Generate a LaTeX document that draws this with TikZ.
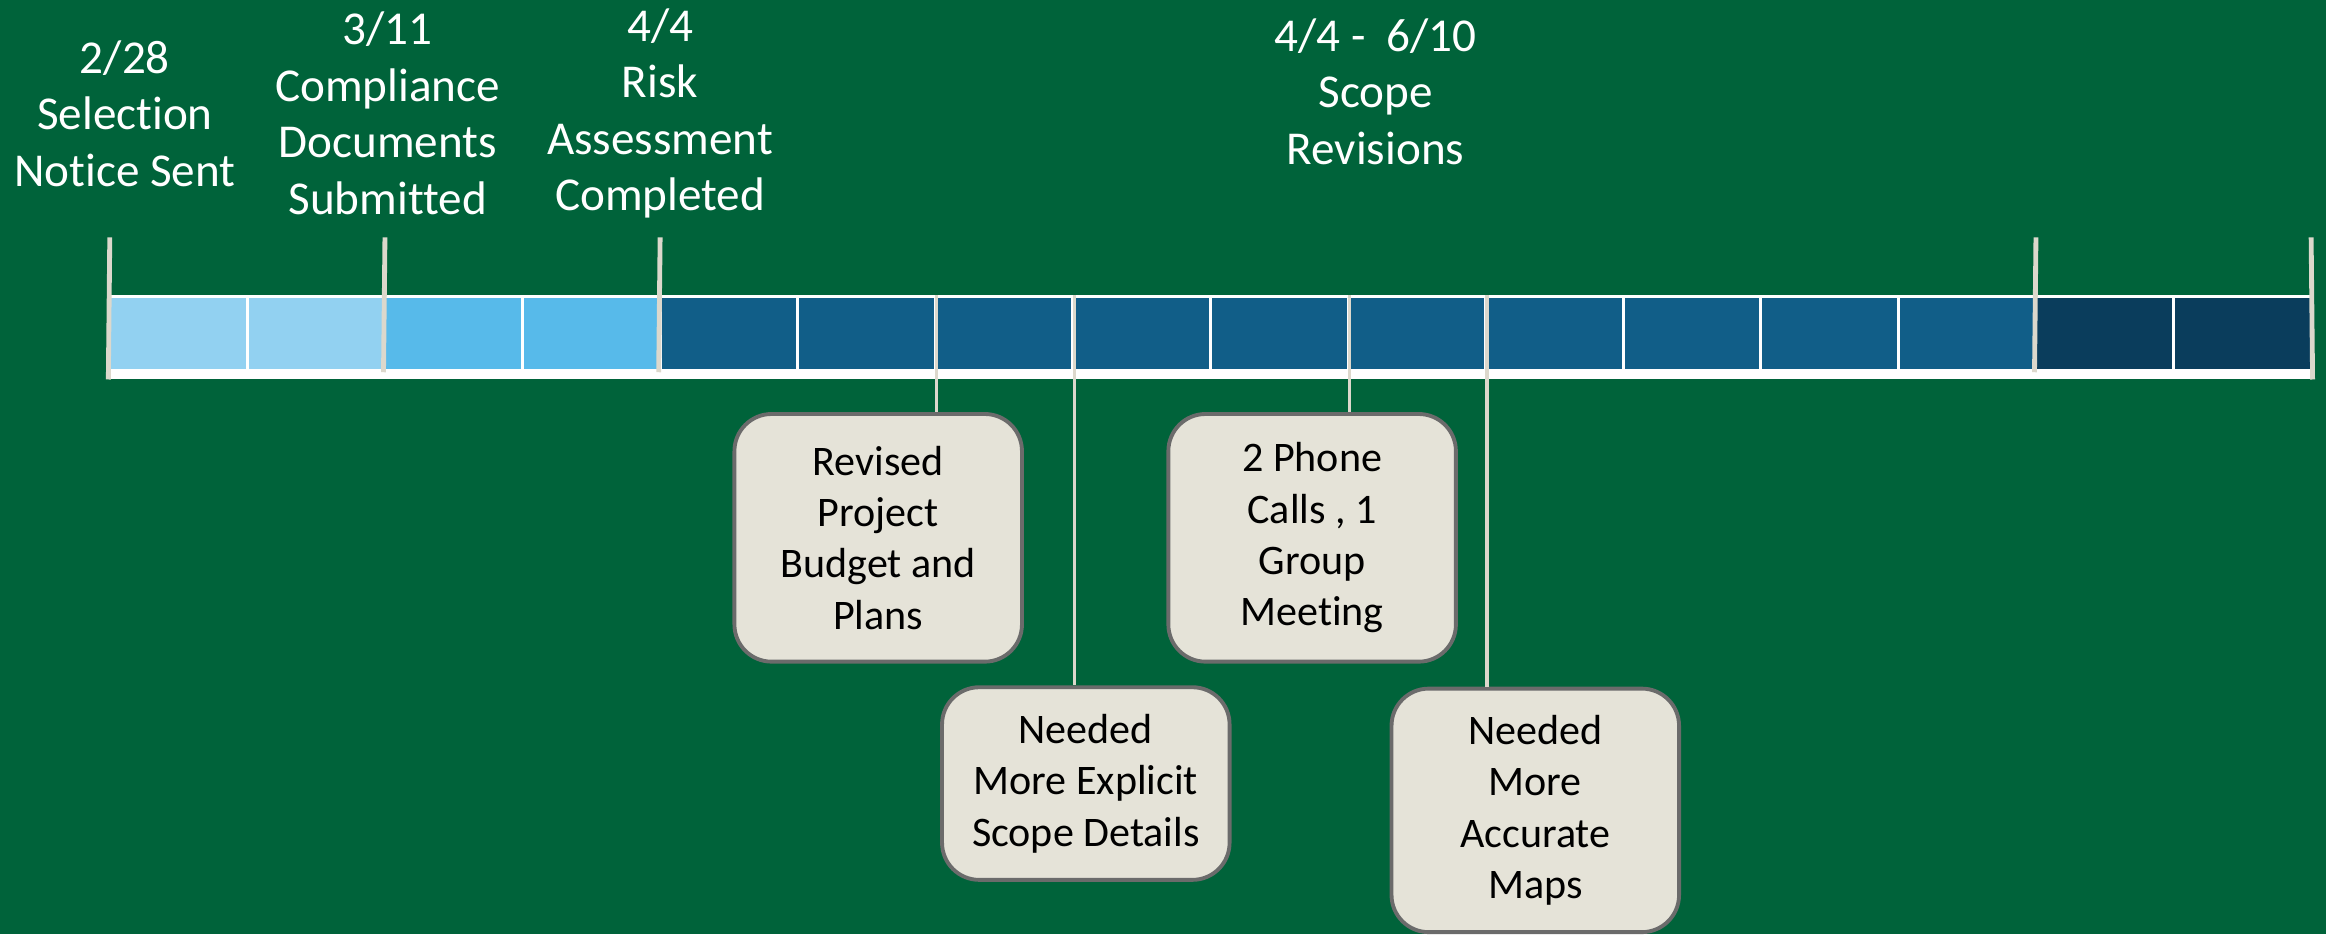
\documentclass[tikz,border=0pt]{standalone}
\usepackage{fontspec}
\setmainfont[Ligatures=NoCommon]{Carlito}
\usepackage{tikz}

\definecolor{bggreen}{HTML}{00633A}
\definecolor{paleblue}{HTML}{92D1F1}
\definecolor{midblue}{HTML}{57BAEA}
\definecolor{deepblue}{HTML}{115E88}
\definecolor{nightblue}{HTML}{0A3D5C}
\definecolor{tickgray}{HTML}{DCD8CC}
\definecolor{notefill}{HTML}{E5E3D8}
\definecolor{noteedge}{HTML}{6B6B6B}

\begin{document}
\begin{tikzpicture}[thick]
    \tikzstyle{cell} = [
        draw=white,
        line width=0.6pt,
        minimum width=1cm,
        minimum height=0.54cm,
        inner sep=0pt
    ]
    \tikzstyle{datetext} = [
        text=white,
        align=center,
        inner sep=0pt,
        font=\fontsize{9.75}{11.7}\selectfont
    ]
    \tikzstyle{notebox} = [
        fill=notefill,
        draw=noteedge,
        line width=0.8pt,
        rounded corners=0.27cm,
        align=center,
        anchor=north,
        minimum width=2.09cm,
        minimum height=1.8cm,
        font=\fontsize{8.7}{10.6}\selectfont
    ]
    \tikzstyle{tickline} = [draw=tickgray, line width=1pt]
    \tikzstyle{hangline} = [draw=tickgray, line width=0.7pt]
    \tikzstyle{barbase} = [draw=white, line width=1.5pt]

    % background
    \useasboundingbox (-0.798, -4.097) rectangle (16.108, 2.695);
    \fill[bggreen] (-0.798, -4.097) rectangle (16.108, 2.695);

    % the bar, one cell a week
    \node[cell, fill=paleblue]  (c1)  at (0.5,  0.27) {};
    \node[cell, fill=paleblue]  (c2)  at (1.5,  0.27) {};
    \node[cell, fill=midblue]   (c3)  at (2.5,  0.27) {};
    \node[cell, fill=midblue]   (c4)  at (3.5,  0.27) {};
    \node[cell, fill=deepblue]  (c5)  at (4.5,  0.27) {};
    \node[cell, fill=deepblue]  (c6)  at (5.5,  0.27) {};
    \node[cell, fill=deepblue]  (c7)  at (6.5,  0.27) {};
    \node[cell, fill=deepblue]  (c8)  at (7.5,  0.27) {};
    \node[cell, fill=deepblue]  (c9)  at (8.5,  0.27) {};
    \node[cell, fill=deepblue]  (c10) at (9.5,  0.27) {};
    \node[cell, fill=deepblue]  (c11) at (10.5, 0.27) {};
    \node[cell, fill=deepblue]  (c12) at (11.5, 0.27) {};
    \node[cell, fill=deepblue]  (c13) at (12.5, 0.27) {};
    \node[cell, fill=deepblue]  (c14) at (13.5, 0.27) {};
    \node[cell, fill=nightblue] (c15) at (14.5, 0.27) {};
    \node[cell, fill=nightblue] (c16) at (15.5, 0.27) {};

    \draw[barbase] ([yshift=-0.75pt]c1.south west) -- ([yshift=-0.75pt]c16.south east);

    % dates above the bar
    \node[datetext] (d1) at (0.11, 1.87) {2/28\\Selection\\Notice Sent};
    \node[datetext] (d2) at (2.02, 1.87) {3/11\\Compliance\\Documents\\Submitted};
    \node[datetext] (d3) at (4.0,  1.87) {4/4\\Risk\\Assessment\\Completed};
    \node[datetext] (d4) at (9.2,  2.03) {4/4 -\ \ 6/10\\Scope\\Revisions};

    \coordinate (up1) at (0,  0.97);
    \coordinate (up2) at (2,  0.97);
    \coordinate (up3) at (4,  0.97);
    \coordinate (up4) at (14, 0.97);
    \coordinate (up5) at (16, 0.97);

    \draw[tickline] (up1) -- ([yshift=-1.5pt]c1.south west);
    \draw[tickline] (up2) -- (c3.south west);
    \draw[tickline] (up3) -- (c5.south west);
    \draw[tickline] (up4) -- (c15.south west);
    \draw[tickline] (up5) -- ([yshift=-1.5pt]c16.south east);

    % notes below the bar
    \node[notebox] (n1) at (5.585, -0.30) {Revised\\Project\\Budget and\\Plans};
    \node[notebox, minimum height=1.4cm] (n2) at (7.094, -2.286) {Needed\\More Explicit\\Scope Details};
    \node[notebox] (n3) at (8.739, -0.30) {2 Phone\\Calls , 1\\Group\\Meeting};
    \node[notebox, minimum height=1.77cm] (n4) at (10.361, -2.296) {Needed\\More\\Accurate\\Maps};

    \draw[hangline] (c6.north east)  -- (c6.north east |- n1.north);
    \draw[hangline] (c7.north east)  -- (c7.north east |- n2.north);
    \draw[hangline] (c9.north east)  -- (c9.north east |- n3.north);
    \draw[hangline] (c10.north east) -- (c10.north east |- n4.north);
\end{tikzpicture}
\end{document}
